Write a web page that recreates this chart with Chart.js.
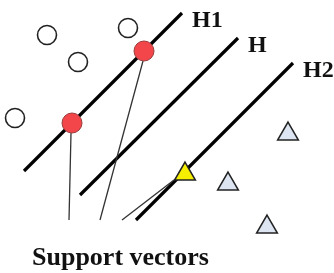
<!DOCTYPE html>
<html>
<head>
<meta charset="utf-8">
<script src="https://cdn.jsdelivr.net/npm/chart.js@4"></script>
<style>
html,body{margin:0;padding:0;background:#fff;}
#wrap{width:334px;height:273px;position:relative;}
</style>
</head>
<body>
<div id="wrap"><canvas id="c"></canvas></div>
<script>
// Hyperplane names and their end points (x, y in picture units, y grows downward)
const planeNames = ['H1', 'H', 'H2'];
const planeStartX = [24, 80, 136];
const planeStartY = [171, 195, 220];
const planeEndX = [182, 238, 293];
const planeEndY = [13, 38, 63];

// Class A: open circles and support vector circles
const circleX = [47, 128, 78, 15];
const circleY = [35, 28, 62, 118];
const svCircleX = [144, 72];
const svCircleY = [51, 123];

// Class B: triangles and support vector triangle
const triX = [288, 228, 267];
const triY = [134, 184, 227];
const svTriX = [185];
const svTriY = [174];

// Pointer lines from the caption to the support vectors
const pointerFromX = [69, 100, 122];
const pointerFromY = [220, 220, 220];
const pointerToX = [71, 143, 174];
const pointerToY = [133, 61, 180];

const caption = 'Support vectors';

const pts = (xs, ys) => xs.map((x, i) => ({x: x, y: ys[i]}));

const datasets = [];
planeNames.forEach((n, i) => {
  datasets.push({
    label: n, type: 'scatter', showLine: true,
    data: [{x: planeStartX[i], y: planeStartY[i]}, {x: planeEndX[i], y: planeEndY[i]}],
    borderColor: '#000', borderWidth: 3.2, pointRadius: 0, borderCapStyle: 'butt',
    order: 3, clip: false
  });
});
pointerFromX.forEach((x, i) => {
  datasets.push({
    label: 'pointer' + i, type: 'scatter', showLine: true,
    data: [{x: x, y: pointerFromY[i]}, {x: pointerToX[i], y: pointerToY[i]}],
    borderColor: '#333', borderWidth: 1.3, pointRadius: 0,
    order: 2, clip: false
  });
});
datasets.push({
  label: 'circles', type: 'scatter', data: pts(circleX, circleY),
  pointStyle: 'circle', pointRadius: 9.5, backgroundColor: '#fff',
  borderColor: '#222', borderWidth: 1.6, order: 1, clip: false
});
datasets.push({
  label: 'sv circles', type: 'scatter', data: pts(svCircleX, svCircleY),
  pointStyle: 'circle', pointRadius: 10, backgroundColor: '#f2464b',
  borderColor: '#9a3b3b', borderWidth: 1, order: 0, clip: false
});
datasets.push({
  label: 'triangles', type: 'scatter', data: pts(triX, triY),
  pointStyle: 'triangle', pointRadius: 12, backgroundColor: '#dce5f1',
  borderColor: '#222', borderWidth: 1.5, order: 1, clip: false
});
datasets.push({
  label: 'sv triangle', type: 'scatter', data: pts(svTriX, svTriY),
  pointStyle: 'triangle', pointRadius: 12, backgroundColor: '#f5ee00',
  borderColor: '#222', borderWidth: 1.5, order: 0, clip: false
});

const textPlugin = {
  id: 'texts',
  afterDraw(chart) {
    const ctx = chart.ctx, xs = chart.scales.x, ys = chart.scales.y;
    ctx.save();
    ctx.fillStyle = '#111';
    ctx.textBaseline = 'alphabetic';
    ctx.textAlign = 'left';
    ctx.font = 'bold 24px "Liberation Serif", "DejaVu Serif", serif';
    planeNames.forEach((n, i) => {
      ctx.fillText(n, xs.getPixelForValue(planeEndX[i]) + 10, ys.getPixelForValue(planeEndY[i]) + 14);
    });
    ctx.font = 'bold 26px "Liberation Serif", "DejaVu Serif", serif';
    ctx.fillText(caption, 32, 265);
    ctx.restore();
  }
};

new Chart(document.getElementById('c'), {
  type: 'scatter',
  data: {datasets: datasets},
  options: {
    responsive: true, maintainAspectRatio: false, animation: false,
    layout: {padding: 0, autoPadding: false},
    plugins: {legend: {display: false}, tooltip: {enabled: false}, title: {display: false}},
    scales: {
      x: {type: 'linear', min: 0, max: 334, display: false},
      y: {type: 'linear', min: 0, max: 273, reverse: true, display: false}
    }
  },
  plugins: [textPlugin]
});
</script>
</body>
</html>
